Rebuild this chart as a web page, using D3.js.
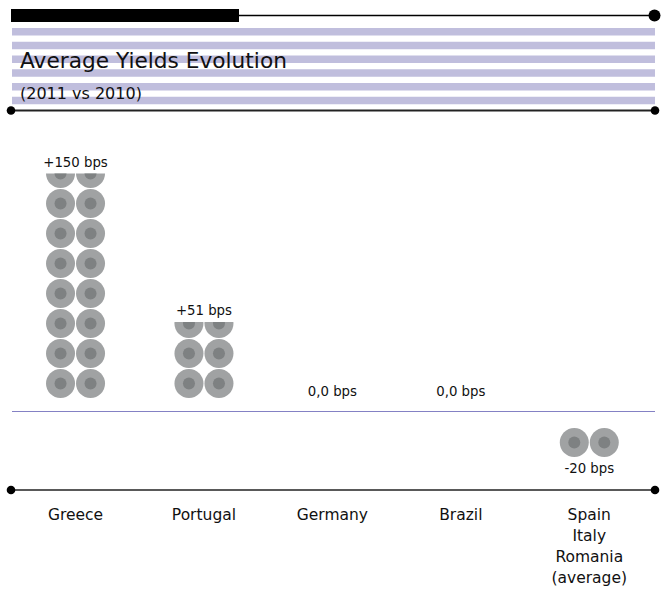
<!DOCTYPE html>
<html>
<head>
<meta charset="utf-8">
<script src="https://cdn.jsdelivr.net/npm/d3@7"></script>
<style>
  body { margin: 0; background: #fff; }
  text { font-family: "DejaVu Sans", sans-serif; fill: #111; }
</style>
</head>
<body>
<div id="chart"></div>
<script>
// data
var countries = ['Greece', 'Portugal', 'Germany', 'Brazil', 'Spain|Italy|Romania|(average)'];
var bps = [150, 51, 0, 0, -20];
var valueLabels = ['+150 bps', '+51 bps', '0,0 bps', '0,0 bps', '-20 bps'];
var bpsPerRow = 20;  // one row of two circles = 20 bps

var W = 671, H = 589;
var elemID = '#chart';

var svg = d3.select(elemID).append('svg')
    .attr('width', W)
    .attr('height', H);

// ---- header ----
var stripeColor = '#c0bedd';
var stripes = d3.range(6);
svg.selectAll('.stripe')
    .data(stripes)
  .enter().append('rect')
    .attr('class', 'stripe')
    .attr('x', 12)
    .attr('y', function(d){ return 28 + d * 13.75; })
    .attr('width', 643)
    .attr('height', 7.5)
    .style('fill', stripeColor);

svg.append('rect')
    .attr('x', 11).attr('y', 9)
    .attr('width', 228).attr('height', 13)
    .style('fill', '#000');

svg.append('line')
    .attr('x1', 239).attr('x2', 654)
    .attr('y1', 15.5).attr('y2', 15.5)
    .style('stroke', '#000').style('stroke-width', 1.3);
svg.append('circle')
    .attr('cx', 654.5).attr('cy', 15.5).attr('r', 6)
    .style('fill', '#000');

svg.append('text')
    .attr('x', 20).attr('y', 68)
    .style('font-size', '21.7px')
    .text('Average Yields Evolution');

svg.append('text')
    .attr('x', 20).attr('y', 99)
    .style('font-size', '16px')
    .text('(2011 vs 2010)');

function dottedRule(y, w){
  svg.append('line')
      .attr('x1', 11).attr('x2', 655)
      .attr('y1', y).attr('y2', y)
      .style('stroke', '#222').style('stroke-width', w);
  svg.selectAll(null)
      .data([11, 655])
    .enter().append('circle')
      .attr('cx', function(d){ return d; })
      .attr('cy', y)
      .attr('r', 4.3)
      .style('fill', '#000');
}
dottedRule(110.5, 1.8);

// ---- chart ----
var zeroY = 413, gap = 14.5, pairGap = 30, R = 14.5;

var x = d3.scaleBand()
    .domain(countries)
    .range([11.3, 653.5])
    .padding(0);

var h = d3.scaleLinear()
    .domain([0, bpsPerRow])
    .range([0, 30]);

var data = countries.map(function(c, i){
  return {name: c, value: bps[i], label: valueLabels[i], i: i};
});

// zero line
svg.append('line')
    .attr('x1', 12).attr('x2', 655)
    .attr('y1', zeroY - 1.5).attr('y2', zeroY - 1.5)
    .style('stroke', '#8481c4').style('stroke-width', 1);

var defs = svg.append('defs');

var col = svg.selectAll('.col')
    .data(data)
  .enter().append('g')
    .attr('class', 'col');

// clip each stack to its exact value so the top row is cut
col.each(function(d){
  var base = d.value >= 0 ? zeroY - gap : zeroY + gap;
  var len = h(Math.abs(d.value));
  defs.append('clipPath')
      .attr('id', 'clip' + d.i)
    .append('rect')
      .attr('x', x(d.name))
      .attr('width', x.bandwidth())
      .attr('y', d.value >= 0 ? base - len : base)
      .attr('height', len);

  var rows = Math.ceil(Math.abs(d.value) / bpsPerRow);
  var cells = [];
  d3.range(rows).forEach(function(r){
    [-1, 1].forEach(function(s){
      cells.push({
        cx: x(d.name) + x.bandwidth() / 2 + s * pairGap / 2,
        cy: d.value >= 0 ? base - h((r + 0.5) * bpsPerRow) : base + h((r + 0.5) * bpsPerRow)
      });
    });
  });

  var g = d3.select(this).append('g')
      .attr('clip-path', 'url(#clip' + d.i + ')');

  g.selectAll('.outer')
      .data(cells)
    .enter().append('circle')
      .attr('class', 'outer')
      .attr('cx', function(c){ return c.cx; })
      .attr('cy', function(c){ return c.cy; })
      .attr('r', R)
      .style('fill', '#a0a2a3');

  g.selectAll('.inner')
      .data(cells)
    .enter().append('circle')
      .attr('class', 'inner')
      .attr('cx', function(c){ return c.cx; })
      .attr('cy', function(c){ return c.cy; })
      .attr('r', 6)
      .style('fill', '#7e8182');

  // value label
  var ly;
  if(d.value > 0) ly = base - len - 7;
  else if(d.value == 0) ly = zeroY - 17;
  else ly = base + len + 15.5;

  d3.select(this).append('text')
      .attr('x', x(d.name) + x.bandwidth() / 2)
      .attr('y', ly)
      .style('text-anchor', 'middle')
      .style('font-size', '13.3px')
      .text(d.label);
});

// ---- category axis ----
dottedRule(490, 1.5);

var cat = svg.selectAll('.cat')
    .data(data)
  .enter().append('text')
    .attr('class', 'cat')
    .attr('x', function(d){ return x(d.name) + x.bandwidth() / 2; })
    .attr('y', 520)
    .style('text-anchor', 'middle')
    .style('font-size', '15.5px');

cat.selectAll('tspan')
    .data(function(d){ return d.name.split('|'); })
  .enter().append('tspan')
    .attr('x', function(){ return d3.select(this.parentNode).attr('x'); })
    .attr('dy', function(t, i){ return i ? 21 : 0; })
    .text(function(t){ return t; });
</script>
</body>
</html>
